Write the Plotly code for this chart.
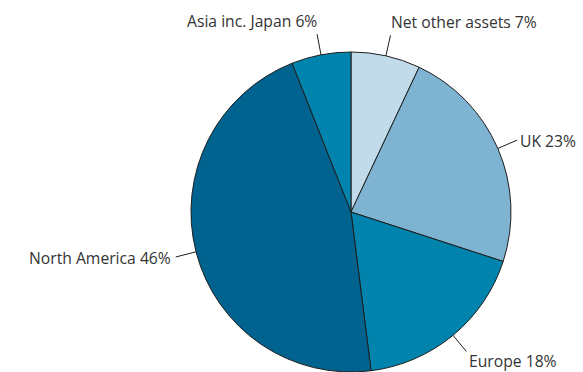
import math
import plotly.graph_objects as go

# Data
labels = ["Net other assets", "UK", "Europe", "North America", "Asia inc. Japan"]
values = [7, 23, 18, 46, 6]
colors = ["#c2dbea", "#7eb4d2", "#0083ad", "#00628f", "#0083ad"]

# Layout (pixels)
W, H = 583, 372
CX, CY, R = 351, 212, 160
LEAD = 21

# text anchor per slice: (xanchor, yanchor, dx, dy)
anchors = [
    ("left", "bottom", -1, 0),
    ("left", "middle", 1, 1),
    ("left", "top", 1, -3),
    ("right", "middle", -3, 1),
    ("right", "bottom", 2, 0),
]

fig = go.Figure(go.Pie(
    labels=labels,
    values=values,
    sort=False,
    direction="clockwise",
    rotation=0,
    textinfo="none",
    hoverinfo="label+percent",
    marker=dict(colors=colors, line=dict(color="#1e1e1e", width=1)),
    domain=dict(x=[(2 * CX - W) / W, 1], y=[0, 2 * R / H]),
    showlegend=False,
))

total = sum(values)
cum = 0
shapes = []
annotations = []
for lab, v, (xa, ya, dx, dy) in zip(labels, values, anchors):
    mid = (cum + v / 2) / total * 2 * math.pi
    cum += v
    sx, sy = math.sin(mid), -math.cos(mid)
    x0, y0 = CX + R * sx, CY + R * sy
    x1, y1 = CX + (R + LEAD) * sx, CY + (R + LEAD) * sy
    shapes.append(dict(type="line", xref="paper", yref="paper",
                       x0=x0 / W, y0=1 - y0 / H, x1=x1 / W, y1=1 - y1 / H,
                       line=dict(color="#1e1e1e", width=1)))
    annotations.append(dict(xref="paper", yref="paper",
                            x=(x1 + dx) / W, y=1 - (y1 + dy) / H,
                            xanchor=xa, yanchor=ya, showarrow=False,
                            text=f"{lab} {v}%",
                            font=dict(family="Open Sans", size=15.7, color="#333333")))

fig.update_layout(
    width=W, height=H,
    margin=dict(l=0, r=0, t=0, b=0),
    paper_bgcolor="white",
    plot_bgcolor="white",
    shapes=shapes,
    annotations=annotations,
)

fig.write_html("out.html")
